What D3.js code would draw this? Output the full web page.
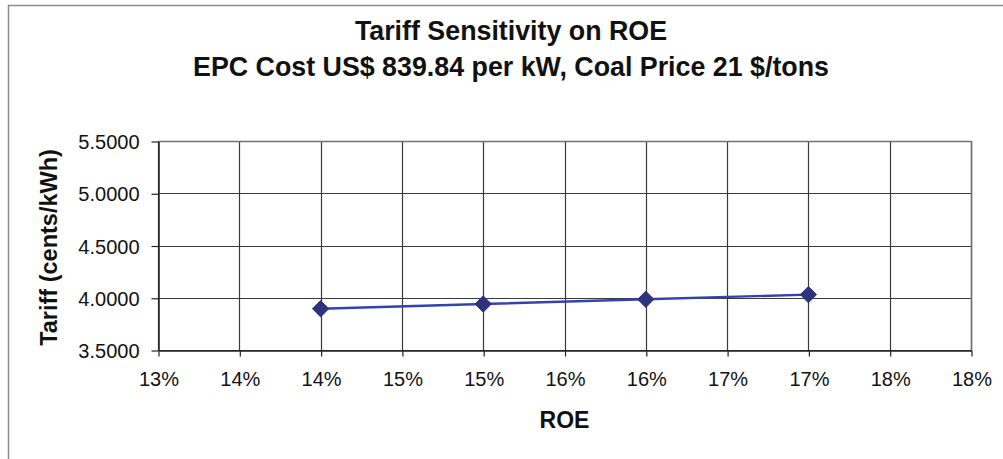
<!DOCTYPE html>
<html>
<head>
<meta charset="utf-8">
<script src="https://cdn.jsdelivr.net/npm/d3@7"></script>
<style>
  html, body { margin: 0; padding: 0; background: #fff; }
  svg { display: block; font-family: "Liberation Sans", Arial, sans-serif; }
</style>
</head>
<body>
<svg id="chart" width="1003" height="459"></svg>
<script>
// ROE on the x axis, tariff (cents/kWh) on the y axis
const roe = [0.14, 0.15, 0.16, 0.17];
const tariff = [3.895, 3.940, 3.985, 4.030];

// x gridline positions every half percent, labelled as whole percents
const xTicks = [0.130, 0.135, 0.140, 0.145, 0.150, 0.155, 0.160, 0.165, 0.170, 0.175, 0.180];
const xTickLabels = ["13%", "14%", "14%", "15%", "15%", "16%", "16%", "17%", "17%", "18%", "18%"];
const yTicks = [3.5, 4.0, 4.5, 5.0, 5.5];

const titleLines = ["Tariff Sensitivity on ROE", "EPC Cost US$ 839.84 per kW, Coal Price 21 $/tons"];
const xTitle = "ROE";
const yTitle = "Tariff (cents/kWh)";

const svg = d3.select("#chart");
const W = 1003, H = 459;
const plot = { left: 158, right: 971, top: 141, bottom: 350 };

// outer chart-area frame
svg.append("rect")
  .attr("x", 8.5).attr("y", 5.5)
  .attr("width", W + 10).attr("height", H + 10)
  .attr("fill", "#fff").attr("stroke", "#8a8a8a").attr("stroke-width", 1.5);

const x = d3.scaleLinear().domain([0.13, 0.18]).range([plot.left, plot.right]);
const y = d3.scaleLinear().domain([3.5, 5.5]).range([plot.bottom, plot.top]);

// gridlines
const grid = svg.append("g").attr("stroke", "#3a3a3a").attr("stroke-width", 1.2);
grid.selectAll("line.v").data(xTicks).join("line")
  .attr("x1", d => Math.round(x(d)) + 0.5).attr("x2", d => Math.round(x(d)) + 0.5)
  .attr("y1", plot.top).attr("y2", plot.bottom);
grid.selectAll("line.h").data(yTicks).join("line")
  .attr("x1", plot.left).attr("x2", plot.right)
  .attr("y1", d => Math.round(y(d)) + 0.5).attr("y2", d => Math.round(y(d)) + 0.5);

// plot frame (top/right in grey)
svg.append("line").attr("x1", plot.left).attr("x2", plot.right + 0.5)
  .attr("y1", plot.top + 0.5).attr("y2", plot.top + 0.5)
  .attr("stroke", "#707070").attr("stroke-width", 1.5);
svg.append("line").attr("x1", plot.right + 0.5).attr("x2", plot.right + 0.5)
  .attr("y1", plot.top).attr("y2", plot.bottom)
  .attr("stroke", "#707070").attr("stroke-width", 1.5);

// axes
const xAxis = d3.axisBottom(x)
  .tickValues(xTicks)
  .tickFormat((d, i) => xTickLabels[i])
  .tickSize(6).tickPadding(15).tickSizeOuter(0);
const yAxis = d3.axisLeft(y)
  .tickValues(yTicks)
  .tickFormat(d3.format(".4f"))
  .tickSize(7).tickPadding(12).tickSizeOuter(0);

const gx = svg.append("g").attr("transform", `translate(0.5,${plot.bottom + 0.5})`).call(xAxis);
const gy = svg.append("g").attr("transform", `translate(${plot.left + 0.5},0.5)`).call(yAxis);
[gx, gy].forEach(g => {
  g.select(".domain").attr("stroke", "#222").attr("stroke-width", 1.5);
  g.selectAll(".tick line").attr("stroke", "#222").attr("stroke-width", 1.2);
  g.selectAll(".tick text").attr("fill", "#111")
    .style("font-family", "'Liberation Sans', Arial, sans-serif").style("font-size", "20px");
});
gx.selectAll(".tick text").attr("dy", "0.71em");
gy.selectAll(".tick text").attr("dy", "0.35em");

// series line and diamond markers
const line = d3.line().x((d, i) => x(roe[i])).y(d => y(d));
svg.append("path").datum(tariff)
  .attr("d", line)
  .attr("fill", "none").attr("stroke", "#3441b0").attr("stroke-width", 2.4);

svg.selectAll("path.marker").data(tariff).join("path")
  .attr("class", "marker")
  .attr("d", d3.symbol().type(d3.symbolDiamond2).size(170))
  .attr("transform", (d, i) => `translate(${x(roe[i])},${y(d)})`)
  .attr("fill", "#2d347f").attr("stroke", "#2d347f").attr("stroke-width", 1);

// titles
const cx = 511;
svg.selectAll("text.title").data(titleLines).join("text")
  .attr("class", "title")
  .attr("x", cx).attr("y", (d, i) => 40 + i * 36)
  .attr("text-anchor", "middle")
  .attr("font-weight", "bold").attr("font-size", 26.8).attr("fill", "#111")
  .text(d => d);

svg.append("text")
  .attr("x", (plot.left + plot.right) / 2).attr("y", 428)
  .attr("text-anchor", "middle")
  .attr("font-weight", "bold").attr("font-size", 23).attr("fill", "#111")
  .text(xTitle);

svg.append("text")
  .attr("transform", `translate(57,${(plot.top + plot.bottom) / 2 + 2}) rotate(-90)`)
  .attr("text-anchor", "middle")
  .attr("font-weight", "bold").attr("font-size", 23.5).attr("fill", "#111")
  .text(yTitle);
</script>
</body>
</html>
